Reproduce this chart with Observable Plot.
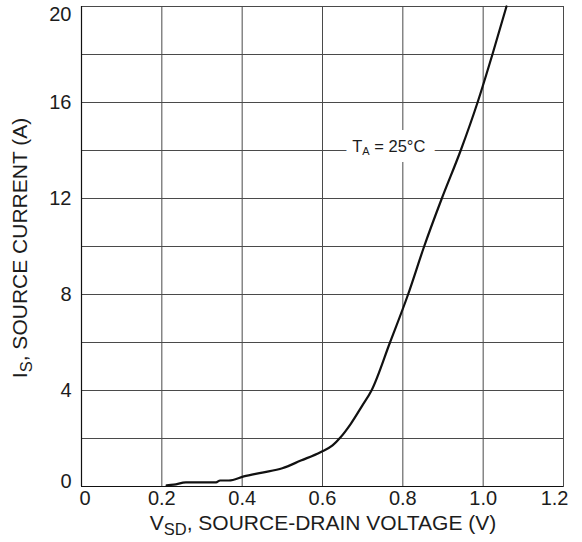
<!DOCTYPE html>
<html><head><meta charset="utf-8">
<script src="https://cdn.jsdelivr.net/npm/d3@7"></script>
<script src="https://cdn.jsdelivr.net/npm/@observablehq/plot@0.6"></script>
<style>body{margin:0;background:#fff;} svg{display:block}</style>
</head><body><div id="chart"></div>
<script>
// Source-drain diode forward curve, TA = 25°C
const vsd = [0.212, 0.23, 0.26, 0.335, 0.345, 0.367, 0.404, 0.45, 0.5, 0.546, 0.595, 0.625, 0.645, 0.67, 0.699, 0.722, 0.768, 0.813, 0.853, 0.897, 0.944, 0.986, 1.023, 1.058];
const isrc = [0.05, 0.08, 0.17, 0.17, 0.25, 0.25, 0.42, 0.58, 0.76, 1.08, 1.43, 1.71, 2.05, 2.6, 3.37, 4.0, 6.0, 8.0, 10, 12, 14, 16, 18, 20];

const xTicks = [0, 0.2, 0.4, 0.6, 0.8, 1.0, 1.2];
const xTickLabels = ["0", "0.2", "0.4", "0.6", "0.8", "1.0", "1.2"];
const yTicks = [0, 4, 8, 12, 16, 20];
const yTickLabels = ["0", "4", "8", "12", "16", "20"];
const xGrid = [0.2, 0.4, 0.6, 0.8, 1.0];
const yGrid = [2, 4, 6, 8, 10, 12, 14, 16, 18];
const noteV = [0.765];
const noteI = [14.15];
const noteText = ["TA = 25°C"];
const xTitle = ["V", "SD", ", SOURCE-DRAIN VOLTAGE (V)"];
const yTitle = ["I", "S", ", SOURCE CURRENT (A)"];

const curve = vsd.map((v, k) => ({v, i: isrc[k]}));
const xt = xTicks.map((v, k) => ({v, t: xTickLabels[k]}));
const yt = yTicks.map((v, k) => ({v, t: yTickLabels[k]}));
const note = noteV.map((v, k) => ({v, i: noteI[k], t: noteText[k]}));
const last = a => a.length - 1;

const ink = "#1c1c1c";
const grid = "#4a4a4a";

const plot = Plot.plot({
  width: 582, height: 542,
  marginLeft: 81, marginRight: 19, marginTop: 6, marginBottom: 56,
  x: {domain: [0, 1.2], axis: null},
  y: {domain: [0, 20], axis: null},
  style: {fontFamily: "'Liberation Sans', Arial, Helvetica, sans-serif", background: "white", color: ink},
  marks: [
    Plot.ruleX(xGrid, {stroke: grid, strokeWidth: 1}),
    Plot.ruleY(yGrid, {stroke: grid, strokeWidth: 1}),
    Plot.frame({stroke: grid, strokeWidth: 1}),
    Plot.ruleX([0], {stroke: "#111", strokeWidth: 1.2}),
    Plot.ruleY([0], {stroke: "#111", strokeWidth: 1.2}),
    // white halo behind the annotation, then the annotation itself
    Plot.text(note, {x: "v", y: "i", text: "t", fill: "white", stroke: "white", strokeWidth: 20, strokeLinejoin: "round", fontSize: 16.5, textAnchor: "middle"}),
    Plot.text(note, {x: "v", y: "i", text: "t", fill: ink, fontSize: 16.5, textAnchor: "middle"}),
    Plot.line(curve, {x: "v", y: "i", stroke: "#111", strokeWidth: 2.2, curve: "monotone-x"}),
    // x tick labels
    Plot.text(xt.slice(1, -1), {x: "v", y: () => 0, text: "t", fontSize: 20, fill: ink, lineAnchor: "top", dy: 4}),
    Plot.text(xt.slice(0, 1), {x: "v", y: () => 0, text: "t", fontSize: 20, fill: ink, lineAnchor: "top", dy: 4, textAnchor: "start", dx: -2}),
    Plot.text(xt.slice(last(xt)), {x: "v", y: () => 0, text: "t", fontSize: 20, fill: ink, lineAnchor: "top", dy: 4, textAnchor: "end", dx: 5}),
    // y tick labels
    Plot.text(yt.slice(1, -1), {x: () => 0, y: "v", text: "t", fontSize: 20, fill: ink, textAnchor: "end", dx: -10}),
    Plot.text(yt.slice(0, 1), {x: () => 0, y: "v", text: "t", fontSize: 20, fill: ink, textAnchor: "end", dx: -10, dy: -5}),
    Plot.text(yt.slice(last(yt)), {x: () => 0, y: "v", text: "t", fontSize: 20, fill: ink, textAnchor: "end", dx: -10, dy: 8})
  ]
});

const svg = d3.select(plot);

// subscript in the annotation (halo and text)
svg.selectAll("text").filter(function () { return this.textContent === noteText[0]; }).each(function () {
  const t = d3.select(this);
  t.text(null);
  t.append("tspan").text("T");
  t.append("tspan").attr("font-size", 11).attr("dy", 3).text("A");
  t.append("tspan").attr("dy", -3).text(" = 25°C");
});

// axis titles with subscripts
function title(parts, transform) {
  const t = svg.append("text")
    .attr("transform", transform)
    .attr("text-anchor", "middle")
    .attr("font-size", 21)
    .attr("fill", ink)
    .attr("font-family", "'Liberation Sans', Arial, Helvetica, sans-serif");
  t.append("tspan").text(parts[0]);
  t.append("tspan").attr("font-size", 16.5).attr("dy", 5).text(parts[1]);
  t.append("tspan").attr("dy", -5).text(parts[2]);
}
title(xTitle, "translate(323,530)");
title(yTitle, "translate(27,248) rotate(-90)");

document.getElementById("chart").append(plot);
</script>
</body></html>
